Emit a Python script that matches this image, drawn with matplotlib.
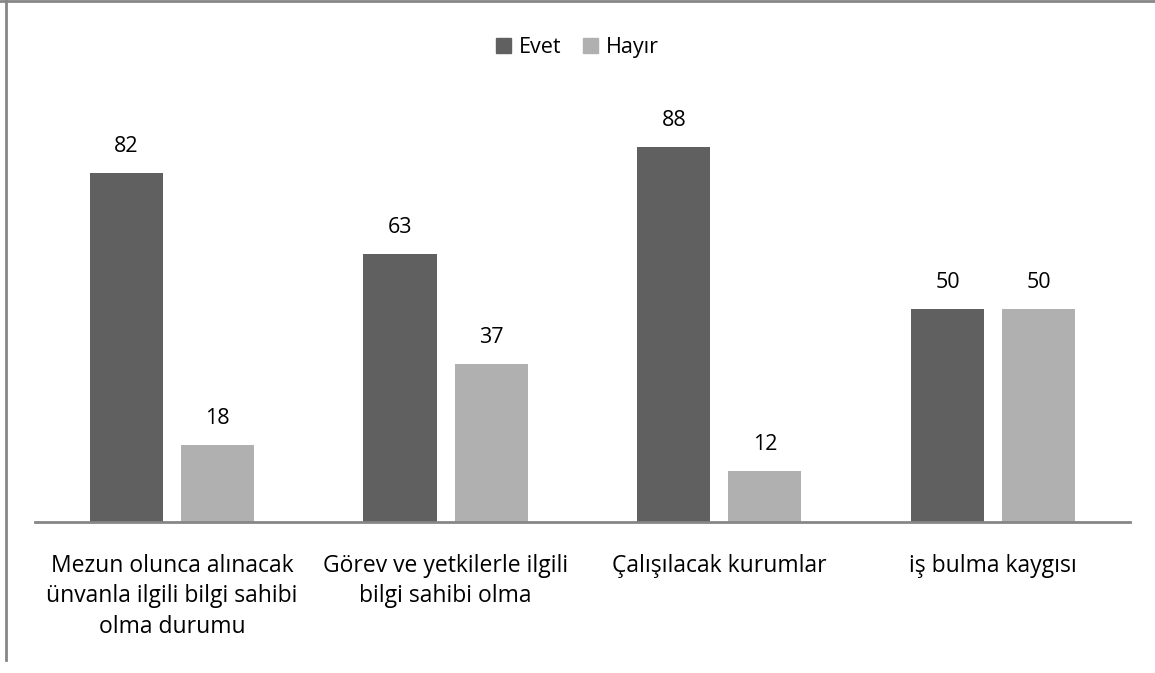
import matplotlib.pyplot as plt
import numpy as np
from matplotlib.lines import Line2D
from matplotlib.patches import Patch

categories = ['Mezun olunca alınacak\nünvanla ilgili bilgi sahibi\nolma durumu',
              'Görev ve yetkilerle ilgili\nbilgi sahibi olma',
              'Çalışılacak kurumlar',
              'iş bulma kaygısı']
evet = [82, 63, 88, 50]
hayir = [18, 37, 12, 50]

DARK = '#606060'
LIGHT = '#b0b0b0'
EDGE = '#868686'

plt.rcParams['font.family'] = ['Open Sans', 'DejaVu Sans']

fig = plt.figure(figsize=(11.55, 6.73), dpi=100)
ax = fig.add_axes([0.0303, 0.2244, 0.948, 0.6330])

x = np.arange(len(categories))
w = 0.267
off = (w + 0.066) / 2
b1 = ax.bar(x - off, evet, w, color=DARK, label='Evet')
b2 = ax.bar(x + off, hayir, w, color=LIGHT, label='Hayır')

for bars, vals in ((b1, evet), (b2, hayir)):
    for rect, v in zip(bars, vals):
        ax.annotate(str(v), (rect.get_x() + rect.get_width() / 2, v),
                    xytext=(0, 19), textcoords='offset points',
                    ha='center', va='center', fontsize=15.5)

ax.set_xlim(-0.5, len(categories) - 0.5)
ax.set_ylim(0, 100)
ax.set_yticks([])
ax.set_xticks(x)
ax.set_xticklabels(categories, fontsize=16.5, linespacing=1.35, ha='center', va='top')
ax.tick_params(axis='x', length=0, pad=23)
for s in ('top', 'right', 'left'):
    ax.spines[s].set_visible(False)
ax.spines['bottom'].set_color(EDGE)
ax.spines['bottom'].set_linewidth(2)

handles = [Patch(color=DARK), Patch(color=LIGHT)]
fig.legend(handles, ['Evet', 'Hayır'], loc='center', bbox_to_anchor=(0.5, 0.93),
           ncol=2, frameon=False, fontsize=15.5, handlelength=0.7, handleheight=0.7,
           handletextpad=0.35, columnspacing=1.0)

# outer frame (top and left edges visible in the reference)
fig.add_artist(Line2D([0, 1], [0.9985, 0.9985], transform=fig.transFigure, color=EDGE, lw=2))
fig.add_artist(Line2D([0.005, 0.005], [0.02, 1], transform=fig.transFigure, color=EDGE, lw=2))

fig.savefig('out.png', dpi=100)
